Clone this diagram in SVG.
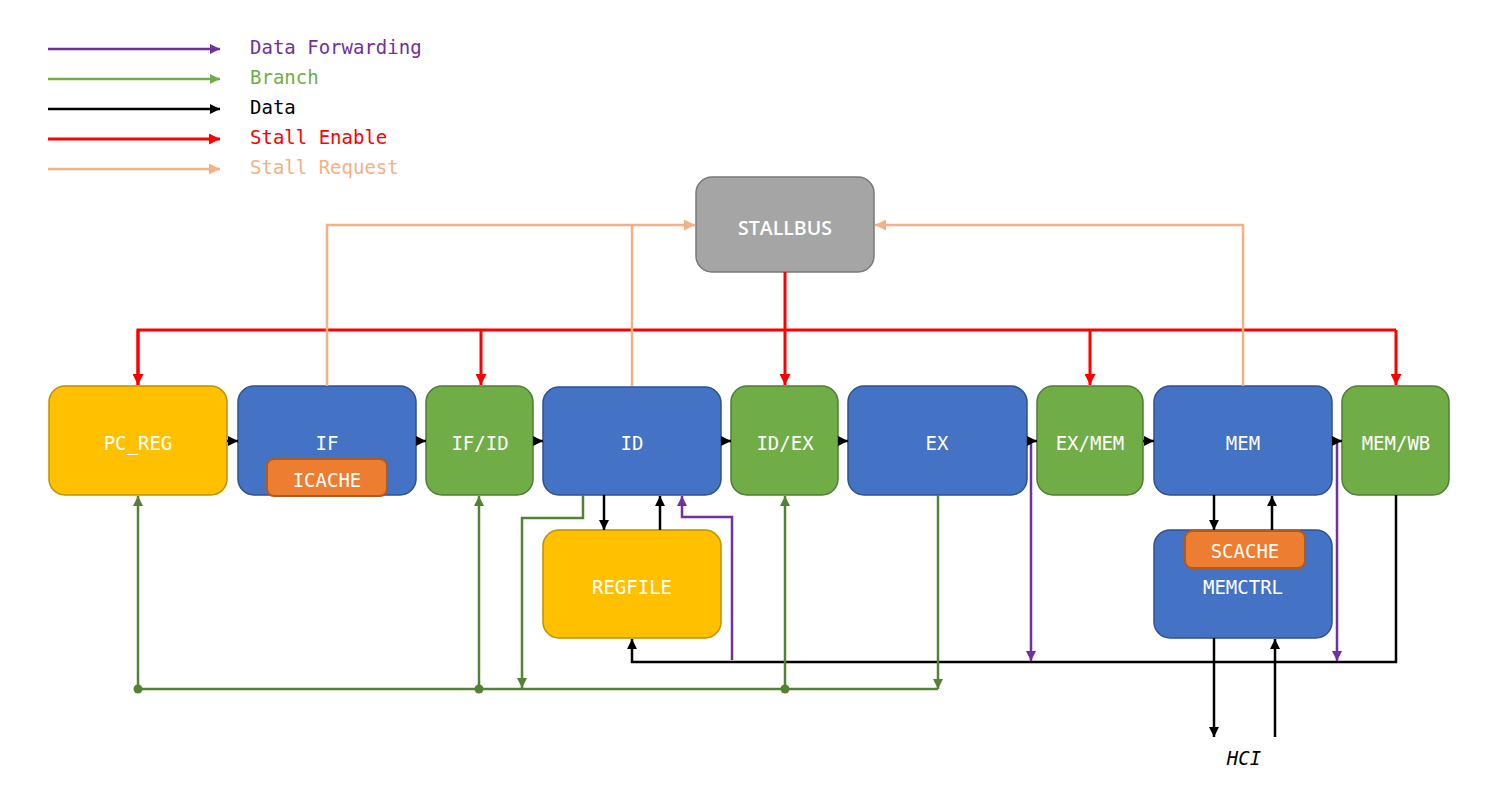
<svg xmlns="http://www.w3.org/2000/svg" width="1494" height="807" viewBox="0 0 1494 807">
<style>
.lbl{font-family:"DejaVu Sans Mono","Liberation Mono",monospace;font-size:19px;fill:#fff;text-anchor:middle;dominant-baseline:central}
.leg{font-family:"DejaVu Sans Mono","Liberation Mono",monospace;font-size:19px;dominant-baseline:central}
.blue{fill:#4472C4;stroke:#2F528F;stroke-width:1.5}
.green{fill:#70AD47;stroke:#507E32;stroke-width:1.5}
.yellow{fill:#FFC000;stroke:#BF9000;stroke-width:1.5}
.orange{fill:#ED7D31;stroke:#AE5A21;stroke-width:2}
.gray{fill:#A5A5A5;stroke:#787878;stroke-width:1.5}
.c{fill:none;stroke-width:2.5;stroke-linejoin:miter}
.k{stroke:#000}
.r{stroke:#FF0000;stroke-width:3}
.o{stroke:#F4B183}
.g{stroke:#548235}
.lg{stroke:#70AD47}
.p{stroke:#7030A0}
</style>
<defs>
<marker id="ak" viewBox="0 0 10 10" refX="10" refY="5" markerWidth="10" markerHeight="10" markerUnits="userSpaceOnUse" orient="auto"><path d="M0,0L10,5L0,10z" fill="#000"/></marker>
<marker id="ar" viewBox="0 0 10 10" refX="10" refY="5" markerWidth="11" markerHeight="11" markerUnits="userSpaceOnUse" orient="auto"><path d="M0,0L10,5L0,10z" fill="#FF0000"/></marker>
<marker id="ao" viewBox="0 0 10 10" refX="10" refY="5" markerWidth="11" markerHeight="11" markerUnits="userSpaceOnUse" orient="auto"><path d="M0,0L10,5L0,10z" fill="#F4B183"/></marker>
<marker id="ag" viewBox="0 0 10 10" refX="10" refY="5" markerWidth="10" markerHeight="10" markerUnits="userSpaceOnUse" orient="auto"><path d="M0,0L10,5L0,10z" fill="#548235"/></marker>
<marker id="alg" viewBox="0 0 10 10" refX="10" refY="5" markerWidth="10" markerHeight="10" markerUnits="userSpaceOnUse" orient="auto"><path d="M0,0L10,5L0,10z" fill="#70AD47"/></marker>
<marker id="ap" viewBox="0 0 10 10" refX="10" refY="5" markerWidth="10" markerHeight="10" markerUnits="userSpaceOnUse" orient="auto"><path d="M0,0L10,5L0,10z" fill="#7030A0"/></marker>
</defs>

<g id="legend">
<line class="c p" x1="48" y1="49" x2="220" y2="49" marker-end="url(#ap)"/>
<line class="c lg" x1="48" y1="79" x2="220" y2="79" marker-end="url(#alg)"/>
<line class="c k" x1="48" y1="109" x2="220" y2="109" marker-end="url(#ak)"/>
<line class="c r" x1="48" y1="139" x2="220" y2="139" marker-end="url(#ar)"/>
<line class="c o" x1="48" y1="169" x2="220" y2="169" marker-end="url(#ao)"/>
<text class="leg" x="250" y="47" fill="#7030A0">Data Forwarding</text>
<text class="leg" x="250" y="77" fill="#70AD47">Branch</text>
<text class="leg" x="250" y="107" fill="#000">Data</text>
<text class="leg" x="250" y="137" fill="#FF0000">Stall Enable</text>
<text class="leg" x="250" y="167" fill="#F4B183">Stall Request</text>
</g>

<g id="nodes">
<g id="stallbus"><rect class="gray" x="696" y="177" width="178" height="95" rx="16"/><text x="785" y="227" style="font-family:'Open Sans','Noto Sans',sans-serif;font-size:19.5px;font-weight:600;fill:#fff;text-anchor:middle;dominant-baseline:central">STALLBUS</text></g>
<g id="pc_reg"><rect class="yellow" x="49" y="386" width="178" height="109" rx="16"/><text class="lbl" x="138" y="443">PC_REG</text></g>
<g id="if"><rect class="blue" x="238" y="386" width="178" height="109" rx="16"/><text class="lbl" x="327" y="443">IF</text></g>
<g id="icache"><rect class="orange" x="267" y="459" width="120" height="37" rx="7"/><text class="lbl" x="327" y="480">ICACHE</text></g>
<g id="if_id"><rect class="green" x="426" y="386" width="107" height="109" rx="16"/><text class="lbl" x="480" y="443">IF/ID</text></g>
<g id="id"><rect class="blue" x="543" y="387" width="178" height="108" rx="16"/><text class="lbl" x="632" y="443">ID</text></g>
<g id="id_ex"><rect class="green" x="731" y="386" width="107" height="109" rx="16"/><text class="lbl" x="785" y="443">ID/EX</text></g>
<g id="ex"><rect class="blue" x="848" y="386" width="179" height="109" rx="16"/><text class="lbl" x="937" y="443">EX</text></g>
<g id="ex_mem"><rect class="green" x="1037" y="386" width="106" height="109" rx="16"/><text class="lbl" x="1090" y="443">EX/MEM</text></g>
<g id="mem"><rect class="blue" x="1154" y="386" width="178" height="109" rx="16"/><text class="lbl" x="1243" y="443">MEM</text></g>
<g id="mem_wb"><rect class="green" x="1342" y="386" width="107" height="109" rx="16"/><text class="lbl" x="1396" y="443">MEM/WB</text></g>
<g id="regfile"><rect class="yellow" x="543" y="530" width="178" height="108" rx="16"/><text class="lbl" x="632" y="587">REGFILE</text></g>
<g id="memctrl"><rect class="blue" x="1154" y="530" width="178" height="108" rx="16"/><text class="lbl" x="1243" y="587">MEMCTRL</text></g>
<g id="scache"><rect class="orange" x="1185" y="531" width="120" height="37" rx="7"/><text class="lbl" x="1245" y="551">SCACHE</text></g>
<g id="hci"><text class="lbl" x="1244" y="758" style="fill:#000;font-style:italic">HCI</text></g>
</g>

<g id="connectors">
<!-- stall enable -->
<polyline class="c r" points="785,272 785,385" marker-end="url(#ar)"/>
<polyline class="c r" points="138,385 138,330 1396,330" />
<polyline class="c r" points="138,330 138,385" marker-end="url(#ar)"/>
<polyline class="c r" points="1396,330 1396,385" marker-end="url(#ar)"/>
<polyline class="c r" points="481,330 481,385" marker-end="url(#ar)"/>
<polyline class="c r" points="1090,330 1090,385" marker-end="url(#ar)"/>
<!-- stall request -->
<polyline class="c o" points="327,386 327,225 695,225" marker-end="url(#ao)"/>
<polyline class="c o" points="632,386 632,225"/>
<polyline class="c o" points="1243,386 1243,225 875,225" marker-end="url(#ao)"/>
<!-- pipeline data -->
<line class="c k" x1="227" y1="441" x2="238" y2="441" marker-end="url(#ak)"/>
<line class="c k" x1="416" y1="441" x2="426" y2="441" marker-end="url(#ak)"/>
<line class="c k" x1="533" y1="441" x2="543" y2="441" marker-end="url(#ak)"/>
<line class="c k" x1="721" y1="441" x2="731" y2="441" marker-end="url(#ak)"/>
<line class="c k" x1="838" y1="441" x2="848" y2="441" marker-end="url(#ak)"/>
<line class="c k" x1="1143" y1="441" x2="1154" y2="441" marker-end="url(#ak)"/>
<!-- ID <-> REGFILE -->
<line class="c k" x1="604" y1="495" x2="604" y2="530" marker-end="url(#ak)"/>
<line class="c k" x1="660" y1="530" x2="660" y2="496" marker-end="url(#ak)"/>
<!-- writeback -->
<polyline class="c k" points="1396,495 1396,662 632,662 632,639" marker-end="url(#ak)"/>
<!-- MEM <-> MEMCTRL -->
<line class="c k" x1="1214" y1="495" x2="1214" y2="530" marker-end="url(#ak)"/>
<line class="c k" x1="1272" y1="530" x2="1272" y2="496" marker-end="url(#ak)"/>
<line class="c k" x1="1214" y1="638" x2="1214" y2="737" marker-end="url(#ak)"/>
<line class="c k" x1="1275" y1="737" x2="1275" y2="639" marker-end="url(#ak)"/>
<!-- forwarding -->
<polyline class="c p" points="732,660 732,517 682,517 682,496" marker-end="url(#ap)"/>
<polyline class="c p" points="1027,441 1031,441 1031,661" marker-end="url(#ap)"/>
<polyline class="c p" points="1332,441 1337,441 1337,661" marker-end="url(#ap)"/>
<line class="c k" x1="1027" y1="441" x2="1037" y2="441" marker-end="url(#ak)"/>
<line class="c k" x1="1332" y1="441" x2="1342" y2="441" marker-end="url(#ak)"/>
<!-- branch -->
<line class="c g" x1="138" y1="689" x2="938" y2="689"/>
<line class="c g" x1="138" y1="689" x2="138" y2="496" marker-end="url(#ag)"/>
<line class="c g" x1="479" y1="689" x2="479" y2="496" marker-end="url(#ag)"/>
<line class="c g" x1="785" y1="689" x2="785" y2="496" marker-end="url(#ag)"/>
<line class="c g" x1="938" y1="495" x2="938" y2="689" marker-end="url(#ag)"/>
<polyline class="c g" points="583,495 583,518 522,518 522,688" marker-end="url(#ag)"/>
<circle cx="138" cy="689" r="4.5" fill="#548235"/>
<circle cx="479" cy="689" r="4.5" fill="#548235"/>
<circle cx="785" cy="689" r="4.5" fill="#548235"/>
</g>
</svg>
